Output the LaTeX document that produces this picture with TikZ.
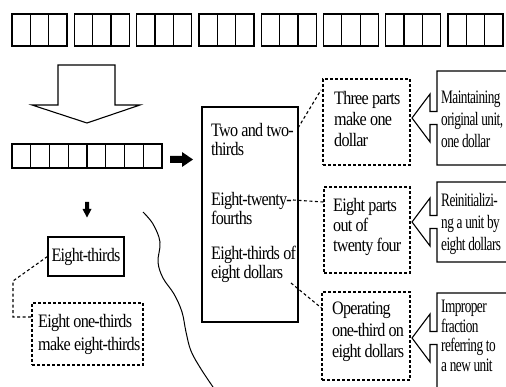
\documentclass[tikz,border=0pt]{standalone}
\usepackage{fontspec}
\setmainfont{Liberation Serif}[FakeStretch=0.85,LetterSpace=-4]
\newfontfamily\narrowserif{Liberation Serif}[FakeStretch=0.7,LetterSpace=-3]
\begin{document}
\begin{tikzpicture}[x=1pt,y=-1pt,line join=miter,
  thin line/.style={line width=1.1pt},
  cellline/.style={line width=1.3pt},
  solidbox/.style={draw,line width=1.1pt,inner sep=0pt},
  dashbox/.style={draw,line width=1.1pt,dash pattern=on 3pt off 2pt},
  dashline/.style={line width=1.1pt,dash pattern=on 3pt off 2.5pt},
  lbl/.style={align=left,inner sep=0pt,anchor=west},
  callout/.style={draw,line width=1.1pt}]
\useasboundingbox (0,0) rectangle (506,387);
\clip (0,0) rectangle (506,387);

% top row: eight wholes, each cut into thirds
\foreach \i in {0,...,7}{
  \pgfmathsetmacro{\xa}{12+62.3*\i}
  \draw[cellline] (\xa,14) rectangle ++(55,32);
  \draw[cellline] (\xa+18.33,14) -- ++(0,32) (\xa+36.67,14) -- ++(0,32);
}

% hollow block arrow pointing down
\draw[thin line] (58,65) -- (115,65) -- (115,105) -- (140,105) -- (87,123)
  -- (32,105) -- (58,105) -- cycle;

% bar of eight thirds
\draw[cellline] (12,144) rectangle (162,168);
\foreach \k in {1,...,7}{ \draw[cellline] (12+18.75*\k,144) -- ++(0,24); }

% small solid arrows
\fill (170,156) -- (182,156) -- (182,152) -- (193,159.5) -- (182,167) -- (182,163) -- (170,163) -- cycle;
\fill (85,202) -- (89,202) -- (89,209) -- (91.5,209) -- (87,217.5) -- (82.5,209) -- (85,209) -- cycle;

% left column
\node[solidbox,minimum width=76pt,minimum height=39pt,font=\fontsize{19}{20}\selectfont] (eth) at (86,256.5) {Eight-thirds};
\node[dashbox,minimum width=111pt,minimum height=62pt] (eot) at (87.5,334) {};
\node[lbl,font=\fontsize{19}{23}\selectfont] (eott) at (38,334) {Eight one-thirds\\make eight-thirds};
\coordinate (k1) at (13,281);
\coordinate (k2) at (13,317);
\draw[dashline] (eth.west) -- (k1) -- (k2) -- (eot.west |- k2);

% curved separator
\draw[line width=1pt] plot[smooth,tension=0.6] coordinates {(143,212) (153,224) (160,242)
  (158,262) (163,278) (174,294) (182,312) (186,332) (191,351) (201,369) (213,387)};

% middle column
\node[solidbox,minimum width=96pt,minimum height=215pt] (mid) at (250,214.5) {};
\node[lbl,font=\fontsize{19}{19}\selectfont] (m1) at (211,139.5) {Two and two-\\thirds};
\node[lbl,font=\fontsize{19}{19}\selectfont] (m2) at (211,208.5) {Eight-twenty-\\fourths};
\node[lbl,font=\fontsize{19}{19}\selectfont] (m3) at (211,264) {Eight-thirds of\\eight dollars};

% dashed interpretation boxes
\node[dashbox,minimum width=87pt,minimum height=86pt] (d1) at (366.5,122) {};
\node[dashbox,minimum width=86pt,minimum height=86pt] (d2) at (367,230) {};
\node[dashbox,minimum width=88pt,minimum height=88pt] (d3) at (366,336) {};
\node[lbl,font=\fontsize{19}{21}\selectfont] (d1t) at (334,119) {Three parts\\make one\\dollar};
\node[lbl,font=\fontsize{19}{20}\selectfont] (d2t) at (333,227) {Eight parts\\out of\\twenty four};
\node[lbl,font=\fontsize{19}{21.5}\selectfont] (d3t) at (332,332) {Operating\\one-third on\\eight dollars};

\coordinate (a1) at (298,128);
\coordinate (b1) at (321,90);
\coordinate (a2) at (293,200);
\coordinate (a3) at (291,283);
\draw[dashline] (a1) -- (b1);
\draw[dashline] (a2) -- (d2.west |- 0,202);
\draw[dashline] (a3) -- (d3.west |- 0,308);

% callouts on the right, arrow pointing left
\foreach \top/\bot/\c in {71/165/118, 182/262/222, 293/400/338}{
  \draw[callout] (515,\top) -- (437,\top) -- (437,\c-6.5) -- (430,\c-6.5) -- (430,\c-24)
    -- (412,\c) -- (430,\c+24) -- (430,\c+6.5) -- (437,\c+6.5) -- (437,\bot) -- (515,\bot);
}
\node[lbl,font=\narrowserif\fontsize{19}{22}\selectfont] (r1) at (441,119) {Maintaining\\original unit,\\one dollar};
\node[lbl,font=\narrowserif\fontsize{19}{22}\selectfont] (r2) at (441,224) {Reinitializi-\\ng a unit by\\eight dollars};
\node[lbl,font=\narrowserif\fontsize{19}{19.5}\selectfont] (r3) at (441,336) {Improper\\fraction\\referring to\\a new unit};
\end{tikzpicture}
\end{document}
